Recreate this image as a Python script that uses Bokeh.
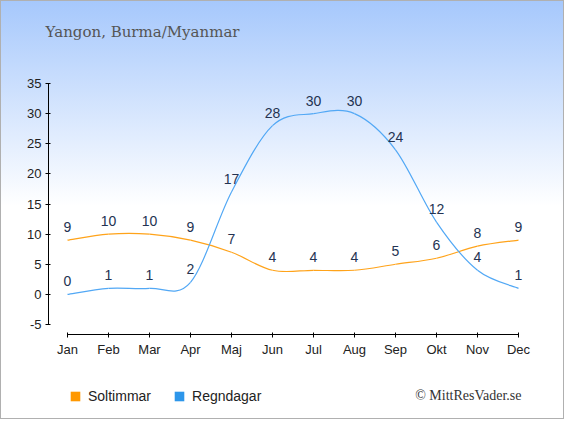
from bokeh.plotting import figure
from bokeh.models import Range1d, FixedTicker, Label, Legend, LegendItem, LinearAxis
from bokeh.embed import file_html
from bokeh.resources import INLINE
from bokeh.core.properties import value
import numpy as np

months = ["Jan", "Feb", "Mar", "Apr", "Maj", "Jun", "Jul", "Aug", "Sep", "Okt", "Nov", "Dec"]
soltimmar = [9, 10, 10, 9, 7, 4, 4, 4, 5, 6, 8, 9]
regndagar = [0, 1, 1, 2, 17, 28, 30, 30, 24, 12, 4, 1]
y_ticks = [-5, 0, 5, 10, 15, 20, 25, 30, 35]

SUN_LINE = "#ffa31a"
SUN_BOX = "#ff9800"
RAIN_LINE = "#52a8f5"
RAIN_BOX = "#2d96ea"
LABEL_COLOR = "#243352"

W, H = 564, 419
PX_X = 41.0
PX_Y = 6.025
X0 = -66 / PX_X
Y1 = 35 + 82 / PX_Y

p = figure(width=W, height=H, output_backend="svg", toolbar_location=None,
           x_range=Range1d(X0, X0 + W / PX_X), y_range=Range1d(Y1 - H / PX_Y, Y1),
           x_axis_location=None, y_axis_location=None,
           min_border=0, min_border_left=0, min_border_right=0,
           min_border_top=0, min_border_bottom=0,
           styles={"background": "linear-gradient(180deg, #a6c8fc 0px, #ffffff 205px)",
                   "border": "1px solid #b0b0b0"})
p.border_fill_color = None
p.background_fill_color = None
p.outline_line_color = None
p.grid.visible = False

xs = np.arange(len(months), dtype=float)


def spline(ys, color):
    y = np.asarray(ys, dtype=float)
    n = len(y)
    i = np.arange(n - 1)
    im = np.maximum(i - 1, 0)
    i2 = np.minimum(i + 2, n - 1)
    x0, y0 = xs[i], y[i]
    x1, y1 = xs[i + 1], y[i + 1]
    cx0 = x0 + (xs[i + 1] - xs[im]) / 6.0
    cy0 = y0 + (y[i + 1] - y[im]) / 6.0
    cx1 = x1 - (xs[i2] - xs[i]) / 6.0
    cy1 = y1 - (y[i2] - y[i]) / 6.0
    p.bezier(x0=x0, y0=y0, x1=x1, y1=y1, cx0=cx0, cy0=cy0, cx1=cx1, cy1=cy1,
             line_color=color, line_width=1.2)


spline(soltimmar, SUN_LINE)
spline(regndagar, RAIN_LINE)

for ys in (soltimmar, regndagar):
    p.text(x=xs, y=ys, text=[str(v) for v in ys], text_align="center", text_baseline="middle",
           y_offset=-13, text_font=value("Liberation Sans"), text_font_size="14px",
           text_color=LABEL_COLOR)

y_axis_x = X0 + 47 / PX_X
x_axis_y = Y1 - 333 / PX_Y

xaxis = LinearAxis(fixed_location=x_axis_y,
                   ticker=FixedTicker(ticks=list(range(len(months)))),
                   major_label_overrides={i: m for i, m in enumerate(months)},
                   bounds=(0, len(months) - 1))
yaxis = LinearAxis(fixed_location=y_axis_x,
                   ticker=FixedTicker(ticks=y_ticks),
                   major_label_overrides={t: str(t) for t in y_ticks},
                   bounds=(y_ticks[0], y_ticks[-1]))
for ax in (xaxis, yaxis):
    ax.axis_line_color = "black"
    ax.major_tick_line_color = "black"
    ax.major_tick_in = 2
    ax.major_tick_out = 3
    ax.minor_tick_line_color = None
    ax.major_label_text_font = "Liberation Sans"
    ax.major_label_text_font_size = "13px"
    ax.major_label_text_color = "#222222"
    ax.major_label_standoff = 4
p.add_layout(xaxis, "below")
p.add_layout(yaxis, "left")

# legend-only swatches (a single NaN row so nothing is drawn in the plot area)
nan = [float("nan")]
r_sun = p.quad(left=nan, right=nan, top=nan, bottom=nan, fill_color=SUN_BOX, line_color=None)
r_rain = p.quad(left=nan, right=nan, top=nan, bottom=nan, fill_color=RAIN_BOX, line_color=None)
legend = Legend(items=[LegendItem(label="Soltimmar", renderers=[r_sun]),
                       LegendItem(label="Regndagar", renderers=[r_rain])],
                location=(68, 16), orientation="horizontal", padding=0, margin=0,
                spacing=22, label_standoff=7, glyph_width=12, glyph_height=12,
                label_height=12, border_line_color=None, background_fill_alpha=0,
                label_text_font="Liberation Sans", label_text_font_size="14px",
                label_text_color="#222222")
p.add_layout(legend)

p.add_layout(Label(x=44, y=389, x_units="screen", y_units="screen",
                   text="Yangon, Burma/Myanmar", text_font="DejaVu Serif",
                   text_font_size="15px", text_color="#555555", text_baseline="alphabetic"))
p.add_layout(Label(x=520, y=25, x_units="screen", y_units="screen",
                   text="© MittResVader.se", text_font="Liberation Serif",
                   text_font_size="14px", text_color="#333333", text_align="right",
                   text_baseline="alphabetic"))

open("out.html", "w").write(file_html(p, INLINE))
